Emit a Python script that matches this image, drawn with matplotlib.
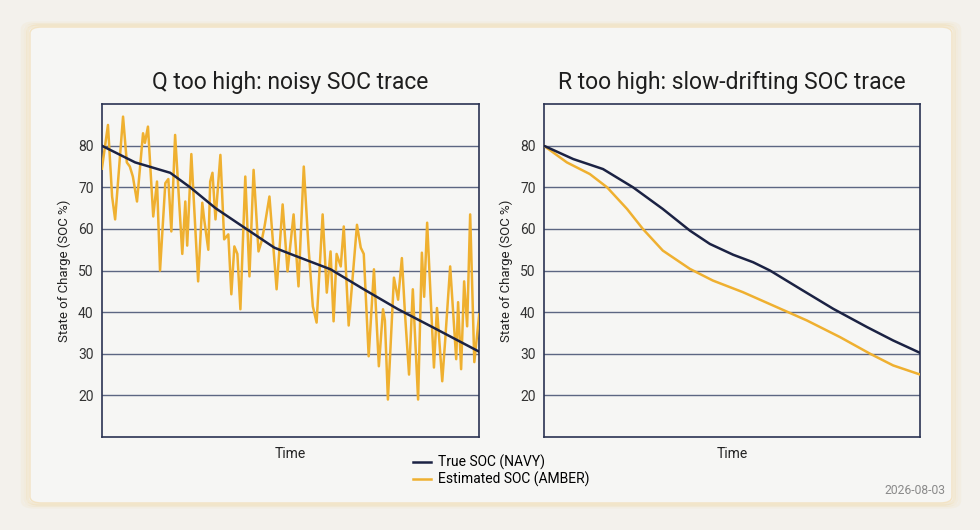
import matplotlib
matplotlib.use("Agg")
import matplotlib.pyplot as plt
from matplotlib.patches import FancyBboxPatch

plt.rcParams['font.family'] = ['Roboto', 'DejaVu Sans']

NAVY = '#1b2243'
AMBER = '#efb030'
GRID = '#4b5676'

# left panel: Q too high (noisy estimate)
q_true_t = [0, 8.8, 18.1, 23.4, 30.1, 37.8, 45.7, 50.5, 60.6, 69.4, 78.5, 87.2, 100]
q_true_soc = [80, 76, 73.5, 70, 65, 60.3, 55.5, 53.8, 50.3, 45.5, 40.7, 36.6, 30.5]

q_est_t = [0, 1.6, 2.7, 3.5, 5.6, 6.6, 7.4, 8.2, 9.3, 10.9, 11.4, 12.2, 13.6, 14.6,
           15.4, 16.8, 17.6, 18.4, 19.4, 21.3, 22.1, 22.6, 23.7, 25.5, 26.6, 27.1,
           28.2, 28.7, 29.3, 30.1, 31.4, 32.4, 33.5, 34.3, 35.1, 35.9, 36.7, 38.0,
           39.1, 40.2, 41.5, 42.3, 43.1, 44.4, 46.3, 47.9, 49.2, 50.8, 52.1, 53.5,
           54.8, 55.9, 56.9, 58.5, 59.6, 60.6, 61.4, 62.2, 63.3, 64.1, 65.4, 67.6,
           68.6, 69.4, 70.7, 72.1, 73.4, 74.5, 75.0, 75.8, 77.4, 78.5, 79.5, 80.3,
           81.4, 82.4, 83.8, 84.8, 85.4, 86.2, 88.0, 88.8, 90.2, 91.0, 92.3, 93.9,
           94.4, 95.2, 96.0, 96.8, 97.6, 98.7, 100]
q_est_soc = [74.5, 85, 67.8, 62.3, 87, 76, 75, 72.6, 66.6, 83, 80.7, 84.6, 63, 71.4,
             50, 71, 72, 59.4, 82.6, 54, 66.6, 56, 78, 47.4, 66.3, 62.3,
             55, 71.4, 73.5, 62.3, 77.8, 57.5, 58.7, 44.3, 55.8, 54, 40.7, 72.6,
             48.6, 74.2, 54.6, 57, 60.6, 67.8, 45.5, 65.9, 49.8, 63.5, 46.2, 75,
             55, 41.4, 37.5, 63.5, 44.7, 54.6, 37.8, 54, 51, 60.6, 36.8, 61,
             55.5, 54, 29.4, 50.3, 27, 40.7, 38, 19, 48.3, 43, 53, 40,
             25, 45.5, 19, 54.3, 43.7, 61.5, 26.7, 41, 23.4, 33.5, 51, 28.7,
             42.4, 26.3, 47.4, 36.6, 63.5, 28, 39.5]

# right panel: R too high (slow drift)
r_true_t = [0, 7.8, 15.7, 23.7, 31.6, 38.8, 44.1, 50.3, 55.6, 60.1, 68.1, 76.9, 85.9, 92.8, 100]
r_true_soc = [80, 76.8, 74.4, 70, 64.8, 59.6, 56.4, 53.8, 52, 50, 45.6, 40.8, 36.4, 33.2, 30.2]

r_est_t = [0, 6.1, 12.2, 16.8, 22.1, 26.3, 31.6, 38.8, 44.9, 52.9, 60.9, 69.9, 78.7, 86.7, 92.8, 100]
r_est_soc = [80, 76, 73.2, 70, 64.8, 60, 54.8, 50.4, 47.6, 44.8, 41.6, 38, 34, 30, 27.2, 25]

y_ticks = [20, 30, 40, 50, 60, 70, 80]

fig = plt.figure(figsize=(9.8, 5.3), dpi=100)
fig.patch.set_facecolor('#f3f1ec')

# card with a faint amber glow
for pad, a in [(0.008, 0.05), (0.005, 0.08), (0.0025, 0.12)]:
    glow = FancyBboxPatch((0.0306 - pad, 0.051 - pad), 0.9408 + 2 * pad, 0.898 + 2 * pad,
                          boxstyle="round,pad=0,rounding_size=0.012",
                          transform=fig.transFigure, facecolor='none',
                          edgecolor=AMBER, linewidth=2, alpha=a, zorder=0)
    fig.add_artist(glow)
card = FancyBboxPatch((0.0306, 0.051), 0.9408, 0.898,
                      boxstyle="round,pad=0,rounding_size=0.012",
                      transform=fig.transFigure, facecolor='#f6f6f4',
                      edgecolor='#f3e3c4', linewidth=1, zorder=0)
fig.add_artist(card)

ax1 = fig.add_axes([0.104, 0.1755, 0.385, 0.628])
ax2 = fig.add_axes([0.555, 0.1755, 0.384, 0.628])

panels = [
    (ax1, q_true_t, q_true_soc, q_est_t, q_est_soc, 'Q too high: noisy SOC trace'),
    (ax2, r_true_t, r_true_soc, r_est_t, r_est_soc, 'R too high: slow-drifting SOC trace'),
]

for ax, tt, ts, et, es, title in panels:
    ax.set_facecolor('#f6f6f4')
    ax.plot(et, es, color=AMBER, linewidth=1.8, zorder=3, label='Estimated SOC (AMBER)')
    ax.plot(tt, ts, color=NAVY, linewidth=1.8, zorder=4, label='True SOC (NAVY)')
    ax.set_xlim(0, 100)
    ax.set_ylim(10, 90)
    ax.set_yticks(y_ticks)
    ax.set_xticks([])
    ax.tick_params(axis='y', length=0, labelsize=10, labelcolor='#333333', pad=6)
    ax.yaxis.grid(True, color=GRID, linewidth=1.0, alpha=0.9)
    ax.set_axisbelow(True)
    for s in ax.spines.values():
        s.set_color('#2a3352')
        s.set_linewidth(1.2)
    ax.set_title(title, fontsize=16.5, color='#1e1e1e', pad=11)
    ax.set_xlabel('Time', fontsize=10, color='#222222', labelpad=7)
    ax.set_ylabel('State of Charge (SOC %)', fontsize=9.5, color='#222222', labelpad=5)

handles, labels = ax1.get_legend_handles_labels()
fig.legend(handles[::-1], labels[::-1], loc='center left',
           bbox_to_anchor=(0.421, 1 - 471 / 530), frameon=False,
           fontsize=10, handlelength=1.3, handletextpad=0.5,
           labelspacing=0.1, borderaxespad=0, borderpad=0)

fig.text(0.965, 1 - 491 / 530, '2026-08-03', ha='right', va='center',
         fontsize=8.7, color='#8a8a8a')

fig.savefig('out.png', dpi=100, facecolor=fig.get_facecolor())
